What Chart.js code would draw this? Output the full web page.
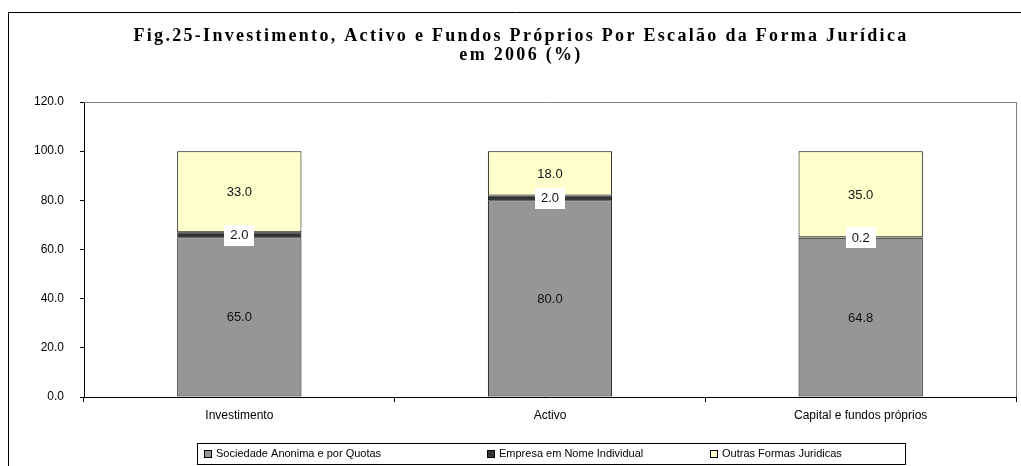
<!DOCTYPE html>
<html><head><meta charset="utf-8">
<script src="https://cdn.jsdelivr.net/npm/chart.js@4"></script>
<style>html,body{margin:0;padding:0;background:#fff}canvas{display:block}</style>
</head><body>
<canvas id="c" width="1021" height="466"></canvas>
<script>
const titleLines = ["Fig.25-Investimento, Activo e Fundos Próprios Por Escalão da Forma Jurídica", "em 2006 (%)"];
const categories = ["Investimento", "Activo", "Capital e fundos próprios"];
const seriesNames = ["Sociedade Anonima e por Quotas", "Empresa em Nome Individual", "Outras Formas Juridicas"];
const sociedade = [65.0, 80.0, 64.8];
const empresa = [2.0, 2.0, 0.2];
const outras = [33.0, 18.0, 35.0];
const yTicks = [0, 20, 40, 60, 80, 100, 120];
const seriesColors = ["#969696", "#333333", "#FFFFCC"];

const decor = {
  id: 'decor',
  afterDraw(chart) {
    const ctx = chart.ctx, a = chart.chartArea;
    ctx.save();
    // outer border
    ctx.strokeStyle = '#000'; ctx.lineWidth = 1;
    ctx.beginPath(); ctx.moveTo(8.5, 470); ctx.lineTo(8.5, 12.5); ctx.lineTo(1030, 12.5); ctx.stroke();
    // plot top/right border
    ctx.strokeStyle = '#808080';
    ctx.beginPath(); ctx.moveTo(a.left, a.top + 0.5); ctx.lineTo(a.right + 0.5, a.top + 0.5); ctx.lineTo(a.right + 0.5, a.bottom); ctx.stroke();
    // title
    ctx.fillStyle = '#000';
    ctx.font = 'bold 18px "Liberation Serif", "Times New Roman", serif';
    ctx.textAlign = 'center'; ctx.textBaseline = 'alphabetic';
    ctx.letterSpacing = '2.3px';
    ctx.fillText(titleLines[0], 521, 41);
    ctx.fillText(titleLines[1], 521, 60);
    ctx.letterSpacing = '0px';
    // data labels
    ctx.font = '13px "Liberation Sans", Arial, sans-serif';
    ctx.textBaseline = 'middle';
    chart.data.datasets.forEach((ds, di) => {
      const meta = chart.getDatasetMeta(di);
      meta.data.forEach((el, i) => {
        const txt = ds.data[i].toFixed(1);
        const cx = el.x, cy = (el.y + el.base) / 2;
        if (di === 1) {
          const w = ctx.measureText(txt).width + 12;
          ctx.fillStyle = '#fff';
          ctx.fillRect(Math.round(cx - w / 2), Math.round(cy - 10), Math.round(w), 21);
        }
        ctx.fillStyle = '#111';
        ctx.fillText(txt, cx, cy + 1);
      });
    });
    // legend
    const lx = 197.5, ly = 443.5, lw = 708, lh = 21;
    ctx.strokeStyle = '#000'; ctx.lineWidth = 1;
    ctx.strokeRect(lx, ly, lw, lh);
    const itemX = [204, 487, 710];
    ctx.font = '11px "Liberation Sans", Arial, sans-serif';
    ctx.textAlign = 'left';
    chart.data.datasets.forEach((ds, di) => {
      const x = itemX[di], y = 454;
      ctx.fillStyle = ds.backgroundColor;
      ctx.fillRect(x + 0.5, y - 3.5, 7, 7);
      ctx.strokeStyle = '#000';
      ctx.strokeRect(x + 0.5, y - 3.5, 7, 7);
      ctx.fillStyle = '#000';
      ctx.fillText(ds.label, x + 12, y);
    });
    ctx.restore();
  }
};

const mk = (label, data, color) => ({
  label, data, backgroundColor: color, borderColor: '#000', borderWidth: 1, borderSkipped: false,
  categoryPercentage: 1.0, barPercentage: 0.4
});

new Chart(document.getElementById('c'), {
  type: 'bar',
  data: {
    labels: categories,
    datasets: [
      mk(seriesNames[0], sociedade, seriesColors[0]),
      mk(seriesNames[1], empresa, seriesColors[1]),
      mk(seriesNames[2], outras, seriesColors[2])
    ]
  },
  options: {
    responsive: false, animation: false,
    layout: { padding: { top: 102, right: 5, left: 0, bottom: 0 } },
    plugins: { legend: { display: false }, title: { display: false }, tooltip: { enabled: false } },
    scales: {
      x: {
        stacked: true,
        grid: { display: true, drawOnChartArea: false, drawTicks: true, tickLength: 5, color: '#000', offset: true },
        border: { color: '#000', width: 1 },
        ticks: { color: '#000', font: { size: 12, family: '"Liberation Sans", Arial, sans-serif' }, padding: 6, maxRotation: 0 },
        afterFit: s => { s.height = 69; }
      },
      y: {
        stacked: true, min: yTicks[0], max: yTicks[yTicks.length - 1],
        afterBuildTicks: s => { s.ticks = yTicks.map(v => ({ value: v })); },
        grid: { display: true, drawOnChartArea: false, drawTicks: true, tickLength: 4, color: '#000' },
        border: { color: '#000', width: 1 },
        ticks: { color: '#000', font: { size: 12, family: '"Liberation Sans", Arial, sans-serif' }, padding: 16, callback: v => Number(v).toFixed(1) },
        afterFit: s => { s.width = 84; }
      }
    }
  },
  plugins: [decor]
});
</script>
</body></html>
